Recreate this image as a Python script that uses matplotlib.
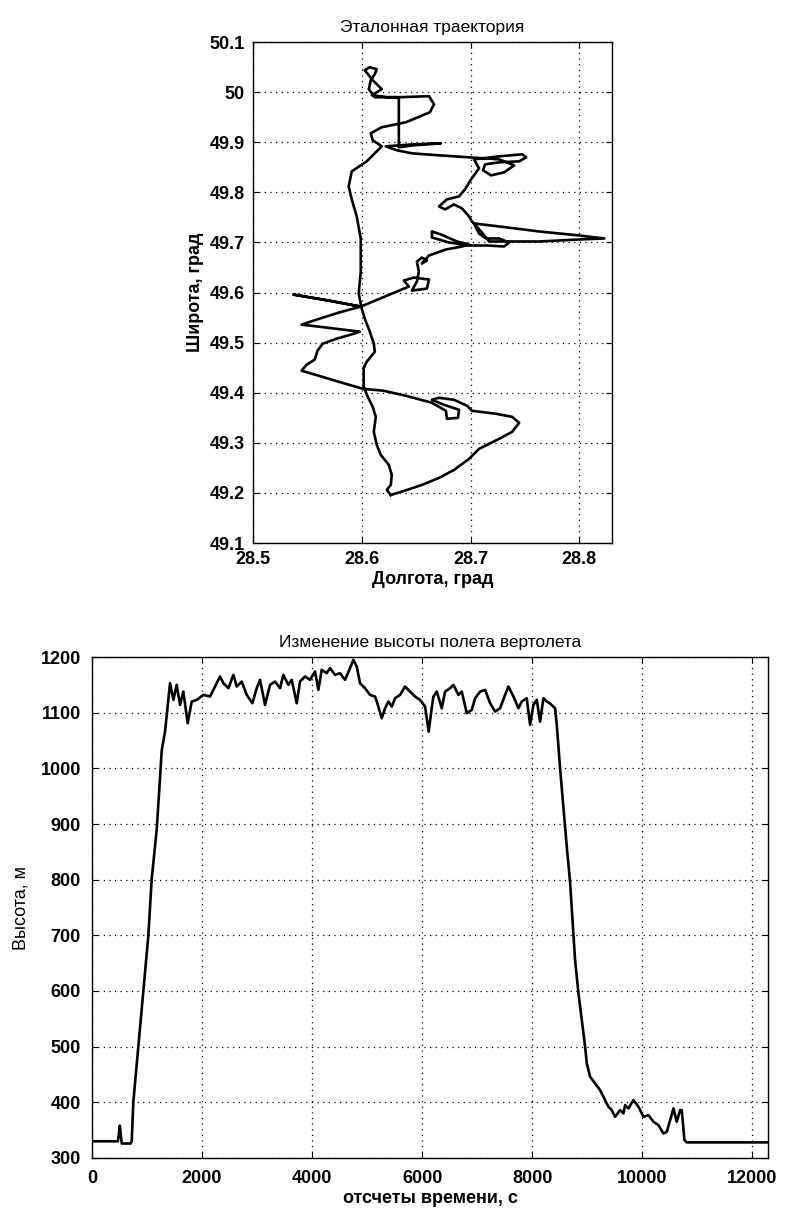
import numpy as np
import matplotlib
matplotlib.use("Agg")
import matplotlib.pyplot as plt

plt.rcParams.update({
    "font.family": ["Liberation Sans", "DejaVu Sans"],
    "font.size": 13,
    "axes.linewidth": 1.0,
    "xtick.direction": "in",
    "ytick.direction": "in",
    "xtick.top": True,
    "ytick.right": True,
    "xtick.major.size": 4,
    "ytick.major.size": 4,
})

# ── Reference trajectory (longitude, latitude in degrees) ───────────────────
lon = [28.6267, 28.6387, 28.6553, 28.6710, 28.6848, 28.6986, 28.7078, 28.7263,
       28.7382, 28.7447, 28.7382, 28.7235, 28.7014, 28.6968, 28.6848, 28.6710,
       28.6645, 28.6756, 28.6894, 28.6885, 28.6783, 28.6774, 28.6645, 28.6406,
       28.6203, 28.6009, 28.5788, 28.5604, 28.5447, 28.5493, 28.5567, 28.5594,
       28.5641, 28.5770, 28.5899, 28.5982, 28.5834, 28.5604, 28.5447, 28.5585,
       28.5788, 28.5991, 28.5696, 28.5373, 28.5696, 28.5991, 28.6212, 28.6433,
       28.6387, 28.6479, 28.6618, 28.6599, 28.6461, 28.6507, 28.6525, 28.6507,
       28.6553, 28.6599, 28.6553, 28.6618, 28.6774, 28.6922, 28.6986, 28.6876,
       28.6728, 28.6645, 28.6645, 28.6802, 28.6986, 28.7152, 28.7309, 28.7355,
       28.7263, 28.7143, 28.7078, 28.7032, 28.7263, 28.7631, 28.8000, 28.8230,
       28.8000, 28.7631, 28.7171, 28.7097, 28.7014, 28.6986, 28.6922, 28.6848,
       28.6765, 28.6710, 28.6783, 28.6894, 28.6949, 28.7005, 28.7078, 28.7032,
       28.7263, 28.7475, 28.7512, 28.7447, 28.7263, 28.7134, 28.7115, 28.7189,
       28.7309, 28.7401, 28.7263, 28.6986, 28.6710, 28.6461, 28.6323, 28.6221,
       28.6479, 28.6728, 28.6479, 28.6341, 28.6341, 28.6341, 28.6230, 28.6092,
       28.6184, 28.6101, 28.6028, 28.6074, 28.6138, 28.6120, 28.6083, 28.6065,
       28.6120, 28.6341, 28.6618, 28.6664, 28.6627, 28.6406, 28.6184, 28.6083,
       28.6101, 28.6184, 28.6138, 28.6046, 28.5908, 28.5880, 28.5908, 28.5954,
       28.5991, 28.5991, 28.5972, 28.6000, 28.6028, 28.6074, 28.6111, 28.6120,
       28.6046, 28.6018, 28.6018, 28.6055, 28.6101, 28.6129, 28.6111, 28.6138,
       28.6175, 28.6249, 28.6276, 28.6267, 28.6230, 28.6267]
lat = [49.196, 49.204, 49.216, 49.230, 49.246, 49.268, 49.288, 49.308,
       49.322, 49.340, 49.352, 49.358, 49.364, 49.374, 49.386, 49.390,
       49.386, 49.376, 49.366, 49.350, 49.348, 49.364, 49.380, 49.394,
       49.404, 49.408, 49.422, 49.434, 49.444, 49.456, 49.466, 49.484,
       49.498, 49.508, 49.516, 49.522, 49.526, 49.532, 49.536, 49.546,
       49.560, 49.572, 49.584, 49.596, 49.584, 49.572, 49.592, 49.612,
       49.624, 49.630, 49.626, 49.608, 49.604, 49.622, 49.642, 49.662,
       49.670, 49.664, 49.658, 49.674, 49.686, 49.692, 49.696, 49.702,
       49.716, 49.722, 49.710, 49.700, 49.694, 49.694, 49.692, 49.700,
       49.708, 49.708, 49.718, 49.738, 49.732, 49.722, 49.714, 49.708,
       49.706, 49.702, 49.702, 49.722, 49.742, 49.752, 49.768, 49.776,
       49.766, 49.772, 49.786, 49.792, 49.806, 49.826, 49.848, 49.866,
       49.872, 49.876, 49.870, 49.862, 49.860, 49.856, 49.844, 49.834,
       49.840, 49.854, 49.866, 49.870, 49.874, 49.878, 49.884, 49.892,
       49.896, 49.898, 49.894, 49.890, 49.942, 49.990, 49.990, 49.994,
       50.006, 50.024, 50.044, 50.050, 50.046, 50.036, 50.024, 50.006,
       49.990, 49.990, 49.992, 49.976, 49.960, 49.940, 49.930, 49.918,
       49.904, 49.892, 49.882, 49.862, 49.842, 49.812, 49.786, 49.752,
       49.708, 49.642, 49.598, 49.568, 49.548, 49.522, 49.498, 49.482,
       49.462, 49.450, 49.412, 49.392, 49.372, 49.352, 49.322, 49.296,
       49.276, 49.256, 49.236, 49.216, 49.206, 49.196]

# ── Altitude vs time ─────────────────────────────────────────────────────────
t = [0, 470, 490, 505, 520, 540, 700, 721, 751, 842, 933, 1024, 1085, 1176,
     1267, 1327, 1370, 1418, 1479, 1539, 1600, 1660, 1739, 1812, 1903, 2024,
     2145, 2236, 2327, 2388, 2479, 2570, 2630, 2721, 2812, 2915, 2994, 3054,
     3145, 3236, 3327, 3418, 3478, 3569, 3630, 3721, 3781, 3872, 3963, 4054,
     4115, 4175, 4266, 4327, 4418, 4509, 4600, 4690, 4751, 4812, 4872, 4963,
     5054, 5145, 5187, 5266, 5327, 5387, 5448, 5509, 5600, 5690, 5781, 5872,
     5963, 6054, 6120, 6175, 6206, 6267, 6358, 6419, 6509, 6570, 6661, 6722,
     6812, 6903, 6964, 7055, 7146, 7237, 7327, 7418, 7509, 7570, 7661, 7752,
     7812, 7903, 7964, 8024, 8085, 8146, 8206, 8267, 8321, 8418, 8449, 8509,
     8570, 8630, 8691, 8752, 8782, 8843, 8903, 8964, 8994, 9055, 9146, 9236,
     9327, 9388, 9449, 9509, 9600, 9661, 9691, 9752, 9843, 9934, 10024, 10115,
     10206, 10297, 10388, 10449, 10509, 10570, 10630, 10691, 10721, 10770,
     10812, 12290]
alt = [330, 330, 345, 358, 345, 326, 326, 330, 401, 500, 599, 700, 802, 890,
       1032, 1066, 1108, 1153, 1123, 1150, 1114, 1138, 1081, 1120, 1123, 1132,
       1129, 1147, 1165, 1153, 1144, 1168, 1147, 1156, 1132, 1117, 1144, 1159,
       1114, 1150, 1156, 1144, 1168, 1150, 1159, 1117, 1156, 1165, 1159, 1174,
       1141, 1177, 1171, 1180, 1168, 1171, 1159, 1180, 1195, 1183, 1153, 1144,
       1132, 1129, 1117, 1090, 1108, 1120, 1111, 1126, 1132, 1147, 1138, 1129,
       1123, 1111, 1066, 1108, 1129, 1138, 1108, 1138, 1144, 1150, 1132, 1138,
       1099, 1105, 1126, 1138, 1141, 1117, 1102, 1108, 1132, 1147, 1129, 1108,
       1120, 1126, 1078, 1114, 1123, 1084, 1126, 1120, 1117, 1108, 1078, 1000,
       930, 860, 795, 703, 655, 596, 548, 500, 470, 446, 434, 422,
       404, 392, 386, 374, 386, 380, 395, 389, 404, 392, 374, 377,
       365, 359, 344, 347, 368, 389, 365, 386, 386, 332,
       328, 328]

lon_ticks = [28.5, 28.6, 28.7, 28.8]
lat_ticks = [49.1, 49.2, 49.3, 49.4, 49.5, 49.6, 49.7, 49.8, 49.9, 50.0, 50.1]
lat_labels = ["49.1", "49.2", "49.3", "49.4", "49.5", "49.6", "49.7", "49.8",
              "49.9", "50", "50.1"]
t_ticks = [0, 2000, 4000, 6000, 8000, 10000, 12000]
alt_ticks = [300, 400, 500, 600, 700, 800, 900, 1000, 1100, 1200]

GRID = dict(color="black", linestyle=(0, (1, 3.5)), linewidth=0.9)


def style_ax(ax, xpad, ypad):
    ax.grid(True, **GRID)
    ax.set_axisbelow(True)
    ax.tick_params(axis="x", pad=xpad)
    ax.tick_params(axis="y", pad=ypad)
    for lab in ax.get_xticklabels() + ax.get_yticklabels():
        lab.set_fontweight("bold")
        lab.set_fontsize(13)


fig = plt.figure(figsize=(7.88, 12.10), dpi=100)

# ── Top: trajectory ──────────────────────────────────────────────────────────
ax1 = fig.add_axes([0.321, 0.5512, 0.4556, 0.414])
ax1.plot(lon, lat, color="black", linewidth=1.9, solid_joinstyle="round")
ax1.set_xlim(28.5, 28.83)
ax1.set_ylim(49.1, 50.1)
ax1.set_xticks(lon_ticks)
ax1.set_xticklabels([f"{v:g}" for v in lon_ticks])
ax1.set_yticks(lat_ticks)
ax1.set_yticklabels(lat_labels)
style_ax(ax1, xpad=6, ypad=6)
ax1.set_title("Эталонная траектория", fontsize=12.5, pad=7)
ax1.set_xlabel("Долгота, град", fontsize=13, fontweight="bold", labelpad=2)
ax1.set_ylabel("Широта, град", fontsize=13, fontweight="bold", labelpad=4)

# ── Bottom: altitude ─────────────────────────────────────────────────────────
ax2 = fig.add_axes([0.1168, 0.043, 0.8579, 0.414])
ax2.plot(t, alt, color="black", linewidth=1.9, solid_joinstyle="round")
ax2.set_xlim(0, 12290)
ax2.set_ylim(300, 1200)
ax2.set_xticks(t_ticks)
ax2.set_yticks(alt_ticks)
style_ax(ax2, xpad=9, ypad=8)
ax2.set_title("Изменение высоты полета вертолета", fontsize=12.5, pad=7)
ax2.set_xlabel("отсчеты времени, с", fontsize=13, fontweight="bold", labelpad=2)
ax2.set_ylabel("Высота, м", fontsize=13, labelpad=8)

fig.savefig("out.png", dpi=100)
